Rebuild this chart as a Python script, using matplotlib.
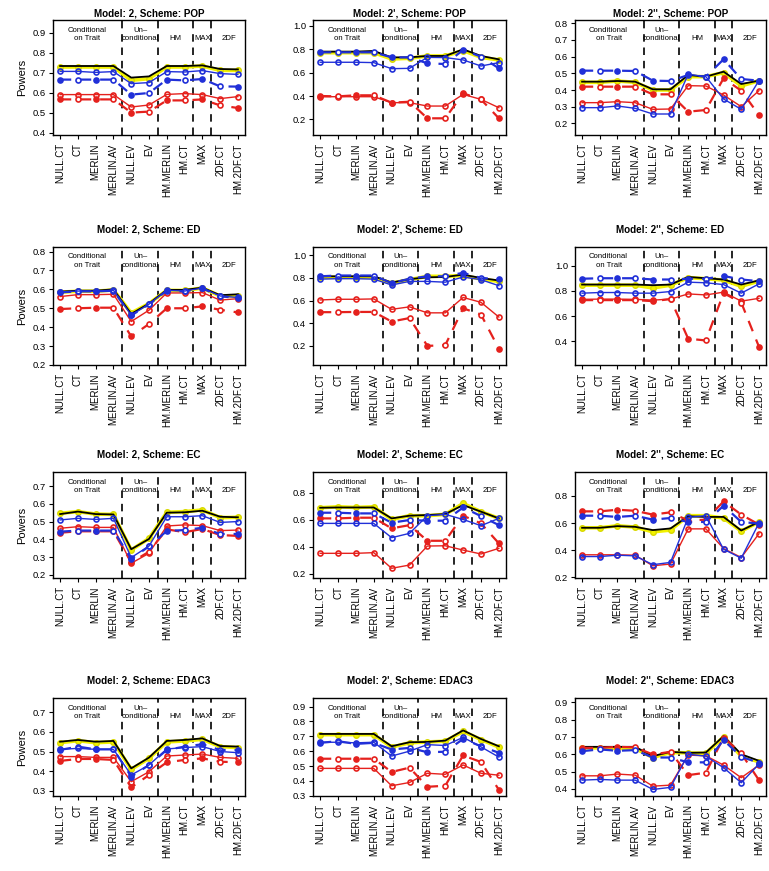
import matplotlib
matplotlib.use("Agg")
import matplotlib.pyplot as plt
from matplotlib.ticker import MultipleLocator

plt.rcParams['font.family'] = ['Liberation Sans', 'DejaVu Sans']

methods = ["NULL.CT", "CT", "MERLIN", "MERLIN.AV", "NULL.EV", "EV",
           "HM.MERLIN", "HM.CT", "MAX", "2DF.CT", "HM.2DF.CT"]
models = ["2", "2'", "2''"]
schemes = ["POP", "ED", "EC", "EDAC3"]
groups = ["Conditional\non Trait", "Un\u2013\nconditional", "HM", "MAX", "2DF"]
group_x = [2.5, 5.5, 7.5, 9, 10.5]
separators = [4.5, 6.5, 8.5, 9.5]

# one row per panel: POP(2,2',2''), ED(...), EC(...), EDAC3(...)
black = [
    [0.735, 0.735, 0.735, 0.735, 0.677, 0.683, 0.735, 0.735, 0.738, 0.72, 0.718],
    [0.78, 0.78, 0.78, 0.786, 0.731, 0.731, 0.743, 0.743, 0.80, 0.743, 0.714],
    [0.45, 0.45, 0.454, 0.45, 0.404, 0.404, 0.49, 0.48, 0.51, 0.436, 0.456],
    [0.588, 0.593, 0.593, 0.60, 0.47, 0.525, 0.597, 0.597, 0.609, 0.569, 0.574],
    [0.815, 0.815, 0.815, 0.815, 0.76, 0.79, 0.806, 0.809, 0.83, 0.80, 0.778],
    [0.85, 0.85, 0.85, 0.85, 0.845, 0.85, 0.91, 0.90, 0.89, 0.85, 0.883],
    [0.542, 0.556, 0.542, 0.54, 0.344, 0.402, 0.55, 0.552, 0.561, 0.527, 0.524],
    [0.689, 0.691, 0.691, 0.691, 0.61, 0.63, 0.635, 0.642, 0.709, 0.66, 0.61],
    [0.565, 0.565, 0.577, 0.572, 0.548, 0.56, 0.65, 0.645, 0.645, 0.545, 0.608],
    [0.55, 0.559, 0.55, 0.554, 0.414, 0.469, 0.554, 0.559, 0.567, 0.528, 0.525],
    [0.716, 0.716, 0.716, 0.716, 0.633, 0.66, 0.662, 0.671, 0.74, 0.682, 0.633],
    [0.643, 0.643, 0.643, 0.643, 0.589, 0.614, 0.608, 0.61, 0.705, 0.60, 0.562],
]
yellow = [
    [0.73, 0.73, 0.73, 0.73, 0.663, 0.672, 0.73, 0.73, 0.735, 0.713, 0.713],
    [0.771, 0.771, 0.771, 0.771, 0.717, 0.723, 0.743, 0.743, 0.789, 0.731, 0.709],
    [0.446, 0.446, 0.454, 0.446, 0.40, 0.40, 0.48, 0.48, 0.504, 0.424, 0.456],
    [0.585, 0.59, 0.59, 0.597, 0.475, 0.525, 0.595, 0.594, 0.607, 0.565, 0.565],
    [0.806, 0.806, 0.806, 0.806, 0.754, 0.785, 0.815, 0.815, 0.822, 0.79, 0.77],
    [0.845, 0.845, 0.845, 0.845, 0.823, 0.845, 0.905, 0.896, 0.885, 0.836, 0.877],
    [0.546, 0.556, 0.542, 0.54, 0.340, 0.405, 0.552, 0.556, 0.565, 0.522, 0.524],
    [0.689, 0.696, 0.691, 0.696, 0.602, 0.63, 0.630, 0.64, 0.721, 0.66, 0.61],
    [0.565, 0.565, 0.58, 0.57, 0.535, 0.548, 0.654, 0.654, 0.637, 0.54, 0.608],
    [0.545, 0.555, 0.545, 0.549, 0.409, 0.465, 0.549, 0.554, 0.562, 0.525, 0.52],
    [0.711, 0.711, 0.711, 0.711, 0.627, 0.656, 0.662, 0.667, 0.733, 0.678, 0.627],
    [0.637, 0.637, 0.634, 0.634, 0.581, 0.61, 0.608, 0.605, 0.701, 0.589, 0.556],
]
blue_solid = [
    [0.708, 0.708, 0.703, 0.707, 0.647, 0.652, 0.707, 0.705, 0.712, 0.697, 0.693],
    [0.689, 0.689, 0.689, 0.686, 0.634, 0.637, 0.731, 0.729, 0.709, 0.657, 0.686],
    [0.294, 0.294, 0.304, 0.29, 0.256, 0.256, 0.494, 0.48, 0.346, 0.284, 0.456],
    [0.586, 0.591, 0.591, 0.595, 0.464, 0.522, 0.595, 0.591, 0.607, 0.565, 0.557],
    [0.79, 0.794, 0.794, 0.79, 0.738, 0.77, 0.77, 0.763, 0.809, 0.785, 0.732],
    [0.782, 0.787, 0.787, 0.782, 0.782, 0.795, 0.869, 0.864, 0.85, 0.782, 0.855],
    [0.509, 0.518, 0.512, 0.518, 0.297, 0.362, 0.527, 0.527, 0.533, 0.495, 0.50],
    [0.573, 0.573, 0.573, 0.573, 0.467, 0.499, 0.63, 0.64, 0.602, 0.556, 0.61],
    [0.353, 0.353, 0.363, 0.358, 0.293, 0.31, 0.642, 0.654, 0.407, 0.341, 0.60],
    [0.511, 0.516, 0.511, 0.511, 0.38, 0.431, 0.513, 0.52, 0.525, 0.50, 0.494],
    [0.66, 0.66, 0.656, 0.66, 0.567, 0.60, 0.644, 0.638, 0.693, 0.629, 0.56],
    [0.45, 0.454, 0.45, 0.45, 0.396, 0.408, 0.60, 0.589, 0.522, 0.435, 0.543],
]
blue_dash = [
    [0.667, 0.667, 0.667, 0.667, 0.592, 0.60, 0.667, 0.663, 0.67, 0.633, 0.632],
    [0.774, 0.774, 0.774, 0.774, 0.731, 0.731, 0.68, 0.674, 0.794, 0.737, 0.637],
    [0.516, 0.516, 0.516, 0.514, 0.456, 0.454, 0.49, 0.48, 0.584, 0.466, 0.456],
    [0.584, 0.589, 0.589, 0.593, 0.462, 0.52, 0.593, 0.589, 0.605, 0.563, 0.555],
    [0.815, 0.822, 0.822, 0.822, 0.754, 0.794, 0.815, 0.815, 0.846, 0.80, 0.79],
    [0.896, 0.90, 0.90, 0.90, 0.89, 0.89, 0.896, 0.896, 0.918, 0.89, 0.877],
    [0.443, 0.449, 0.449, 0.449, 0.29, 0.36, 0.447, 0.452, 0.465, 0.43, 0.43],
    [0.652, 0.652, 0.647, 0.647, 0.578, 0.598, 0.593, 0.593, 0.691, 0.627, 0.56],
    [0.654, 0.654, 0.645, 0.654, 0.625, 0.637, 0.608, 0.608, 0.727, 0.608, 0.596],
    [0.508, 0.525, 0.511, 0.511, 0.372, 0.431, 0.508, 0.525, 0.537, 0.508, 0.508],
    [0.656, 0.667, 0.649, 0.656, 0.611, 0.622, 0.593, 0.596, 0.682, 0.633, 0.589],
    [0.618, 0.628, 0.62, 0.624, 0.581, 0.581, 0.553, 0.553, 0.682, 0.585, 0.551],
]
red_solid = [
    [0.592, 0.592, 0.592, 0.592, 0.53, 0.54, 0.593, 0.597, 0.592, 0.572, 0.582],
    [0.394, 0.394, 0.394, 0.394, 0.343, 0.343, 0.314, 0.314, 0.414, 0.371, 0.30],
    [0.324, 0.324, 0.33, 0.324, 0.284, 0.286, 0.426, 0.424, 0.37, 0.30, 0.396],
    [0.562, 0.572, 0.572, 0.574, 0.43, 0.49, 0.581, 0.581, 0.583, 0.543, 0.551],
    [0.606, 0.612, 0.612, 0.615, 0.523, 0.545, 0.492, 0.492, 0.628, 0.585, 0.455],
    [0.733, 0.735, 0.735, 0.733, 0.727, 0.735, 0.776, 0.768, 0.79, 0.719, 0.741],
    [0.462, 0.471, 0.467, 0.467, 0.265, 0.321, 0.475, 0.481, 0.477, 0.449, 0.452],
    [0.351, 0.351, 0.351, 0.356, 0.24, 0.264, 0.405, 0.407, 0.375, 0.346, 0.388],
    [0.366, 0.366, 0.366, 0.363, 0.285, 0.298, 0.557, 0.557, 0.412, 0.346, 0.521],
    [0.474, 0.474, 0.47, 0.47, 0.346, 0.397, 0.477, 0.482, 0.487, 0.47, 0.465],
    [0.484, 0.484, 0.484, 0.484, 0.367, 0.389, 0.451, 0.444, 0.507, 0.451, 0.438],
    [0.475, 0.475, 0.485, 0.479, 0.415, 0.421, 0.595, 0.591, 0.537, 0.464, 0.537],
]
red_dash = [
    [0.568, 0.568, 0.568, 0.568, 0.502, 0.507, 0.563, 0.563, 0.568, 0.538, 0.525],
    [0.40, 0.397, 0.406, 0.406, 0.343, 0.351, 0.209, 0.209, 0.423, 0.371, 0.209],
    [0.42, 0.42, 0.42, 0.42, 0.374, 0.374, 0.27, 0.28, 0.47, 0.396, 0.25],
    [0.496, 0.50, 0.503, 0.503, 0.351, 0.417, 0.50, 0.50, 0.51, 0.492, 0.478],
    [0.498, 0.498, 0.50, 0.50, 0.415, 0.446, 0.20, 0.206, 0.532, 0.477, 0.175],
    [0.727, 0.727, 0.727, 0.727, 0.719, 0.735, 0.422, 0.408, 0.782, 0.708, 0.359],
    [0.437, 0.445, 0.445, 0.445, 0.27, 0.33, 0.456, 0.44, 0.458, 0.424, 0.419],
    [0.61, 0.61, 0.615, 0.615, 0.536, 0.56, 0.444, 0.444, 0.63, 0.573, 0.425],
    [0.686, 0.686, 0.698, 0.69, 0.662, 0.679, 0.618, 0.625, 0.759, 0.662, 0.589],
    [0.452, 0.462, 0.462, 0.457, 0.317, 0.38, 0.445, 0.457, 0.465, 0.448, 0.445],
    [0.549, 0.549, 0.549, 0.549, 0.46, 0.489, 0.36, 0.367, 0.571, 0.527, 0.34],
    [0.637, 0.637, 0.643, 0.64, 0.599, 0.614, 0.479, 0.493, 0.697, 0.605, 0.45],
]

y_limits = [(0.39, 0.965), (0.066, 1.051), (0.13, 0.82),
            (0.2, 0.824), (0.031, 1.074), (0.214, 1.147),
            (0.182, 0.779), (0.168, 0.954), (0.195, 0.976),
            (0.273, 0.773), (0.298, 0.958), (0.358, 0.926)]
y_steps = [0.1, 0.2, 0.1, 0.1, 0.2, 0.2, 0.1, 0.2, 0.2, 0.1, 0.1, 0.1]

RED = '#e5211d'
BLUE = '#2130d8'
YEL = '#f2f200'

W, H = 769, 871
fig = plt.figure(figsize=(W / 100, H / 100), dpi=100)

col_left = [53, 313, 575]
col_w = [192, 193, 191]
row_top = [20, 247, 472, 698]
row_bot = [135, 365, 578, 796]
title_y = [13, 230, 454, 680]

x = list(range(1, 12))


def dashed_markers(ax, xs, ys, color):
    # filled / open circles alternate on the dashed series
    for i, (xi, yi) in enumerate(zip(xs, ys)):
        face = color if i % 2 == 0 else 'white'
        ax.plot(xi, yi, 'o', ms=3.6, mfc=face, mec=color, mew=1.2, zorder=5)


for r in range(4):
    for c in range(3):
        k = r * 3 + c
        l, t, b = col_left[c], row_top[r], row_bot[r]
        ax = fig.add_axes([l / W, 1 - b / H, col_w[c] / W, (b - t) / H])

        ax.plot(x, yellow[k], '-o', color=YEL, lw=2.6, ms=4, mfc=YEL, mec='#d8d800', zorder=2)
        ax.plot(x, black[k], '-', color='black', lw=1.3, zorder=3)
        ax.plot(x, red_dash[k], color=RED, lw=1.6, ls=(0, (5, 4)), zorder=3)
        dashed_markers(ax, x, red_dash[k], RED)
        ax.plot(x, red_solid[k], '-o', color=RED, lw=1.0, ms=3.6, mfc='none', mew=1.2, zorder=4)
        ax.plot(x, blue_dash[k], color=BLUE, lw=1.6, ls=(0, (5, 4)), zorder=4)
        dashed_markers(ax, x, blue_dash[k], BLUE)
        ax.plot(x, blue_solid[k], '-o', color=BLUE, lw=1.0, ms=3.6, mfc='none', mew=1.2, zorder=6)

        for s in separators:
            ax.axvline(s, color='black', lw=1.2, ls=(0, (4.5, 3.5)), zorder=1)

        for gx, g in zip(group_x, groups):
            lines = g.split("\n")
            if len(lines) == 2:
                ax.annotate(lines[0], xy=(gx, 1), xycoords=('data', 'axes fraction'),
                            xytext=(0, -10 * 0.72), textcoords='offset points',
                            ha='center', va='center', fontsize=5.6)
                ax.annotate(lines[1], xy=(gx, 1), xycoords=('data', 'axes fraction'),
                            xytext=(0, -18.5 * 0.72), textcoords='offset points',
                            ha='center', va='center', fontsize=5.6)
            else:
                ax.annotate(g, xy=(gx, 1), xycoords=('data', 'axes fraction'),
                            xytext=(0, -18.5 * 0.72), textcoords='offset points',
                            ha='center', va='center', fontsize=5.6)

        ax.set_xlim(0.6, 11.4)
        ax.set_ylim(*y_limits[k])
        ax.yaxis.set_major_locator(MultipleLocator(y_steps[k]))
        ax.yaxis.set_major_formatter(plt.FuncFormatter(lambda v, p: f"{v:.1f}"))
        ax.set_xticks(x)
        ax.set_xticklabels(methods, rotation=90, fontsize=7)
        ax.tick_params(axis='y', labelsize=6.8, length=3, width=0.8, pad=2)
        ax.tick_params(axis='x', length=3, width=0.8, pad=3)
        for sp in ax.spines.values():
            sp.set_linewidth(1.0)

        if c == 0:
            ax.set_ylabel("Powers", fontsize=8, labelpad=4)

        fig.text((l + col_w[c] / 2) / W, 1 - title_y[r] / H,
                 f"Model: {models[c]}, Scheme: {schemes[r]}",
                 ha='center', va='center', fontsize=7.1, fontweight='bold')

fig.savefig("out.png", dpi=100)
